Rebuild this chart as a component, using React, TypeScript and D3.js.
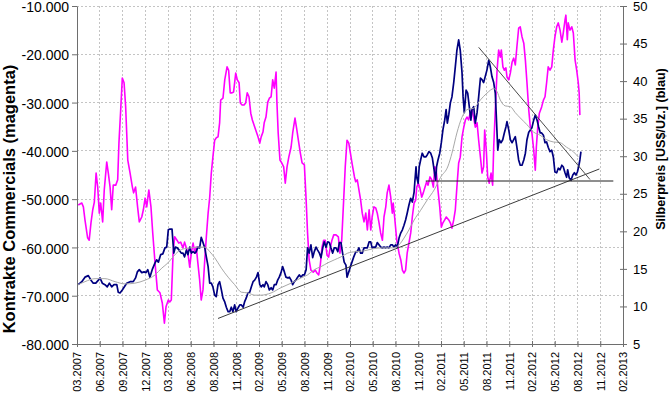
import React, { useEffect, useRef } from "react";
import * as d3 from "d3";

const xTickLabels = [
  "03.2007", "06.2007", "09.2007", "12.2007", "03.2008", "06.2008", "08.2008",
  "11.2008", "02.2009", "05.2009", "08.2009", "11.2009", "02.2010", "05.2010",
  "08.2010", "11.2010", "02.2011", "05.2011", "08.2011", "11.2011", "02.2012",
  "05.2012", "08.2012", "11.2012", "02.2013",
];
const leftTicks = [-80000, -70000, -60000, -50000, -40000, -30000, -20000, -10000];
const rightTicks = [5, 10, 15, 20, 25, 30, 35, 40, 45, 50];

// weeks since 09.03.2007
const commWeeks = [
  0.7, 2.7, 3.6, 4.5, 6.0, 6.9, 7.9, 8.9, 9.8, 10.8,
  11.7, 12.6, 13.4, 14.5, 15.4, 16.8, 17.7, 18.7, 19.6, 20.5,
  21.9, 23.0, 23.7, 24.7, 25.6, 26.6, 27.5, 28.7, 30.0, 31.3,
  32.0, 33.1, 34.3, 35.2, 36.6, 37.5, 38.5, 39.4, 40.6, 41.8,
  42.8, 44.1, 45.4, 46.9, 48.2, 49.4, 50.3, 51.6, 52.4, 53.3,
  54.3, 55.2, 56.5, 57.5, 58.6, 59.9, 60.8, 61.8, 62.7, 63.7,
  64.6, 65.6, 66.6, 67.4, 68.3, 69.3, 70.2, 71.2, 72.2, 73.1,
  74.1, 75.0, 75.9, 76.8, 77.8, 78.7, 79.7, 80.6, 81.2, 82.5,
  83.5, 84.8, 85.7, 86.6, 87.6, 88.5, 89.7, 90.6, 91.6, 92.3,
  93.3, 94.4, 95.3, 96.2, 97.2, 98.2, 99.1, 100.0, 101.0, 102.3,
  103.3, 104.1, 105.1, 105.8, 106.8, 107.8, 108.7, 109.7, 110.6, 111.5,
  112.5, 113.0, 113.7, 114.7, 115.7, 116.8, 117.7, 118.7, 119.7, 121.0,
  121.9, 123.2, 124.1, 125.1, 126.2, 127.2, 128.5, 129.5, 130.3, 131.2,
  132.2, 133.5, 134.7, 135.6, 136.6, 137.5, 138.5, 139.4, 140.3, 141.3,
  142.2, 143.1, 144.1, 145.1, 146.4, 147.7, 148.6, 149.6, 150.7, 151.6,
  152.6, 153.6, 154.5, 155.4, 156.8, 157.5, 158.4, 160.3, 161.2, 162.2,
  163.2, 164.1, 165.1, 166.0, 166.8, 167.8, 168.8, 169.7, 170.7, 171.6,
  172.6, 173.5, 174.5, 175.3, 176.3, 177.3, 178.2, 178.7, 179.5, 180.7,
  182.0, 183.0, 183.9, 184.8, 185.7, 186.6, 187.6, 188.6, 189.5, 190.5,
  191.4, 192.0, 192.9, 193.8, 194.8, 195.7, 196.7, 197.6, 198.4, 199.5,
  200.5, 201.4, 202.2, 203.0, 204.0, 205.0, 205.9, 206.8, 207.8, 208.7,
  210.1, 211.0, 211.9, 212.9, 213.8, 214.7, 215.7, 216.6, 217.6, 218.6,
  219.5, 220.4, 221.3, 222.2, 223.2, 224.2, 225.1, 226.1, 227.0, 228.0,
  228.9, 229.8, 230.4, 231.3, 232.1, 233.0, 234.0, 234.9, 235.5, 236.4,
  237.4, 238.3, 239.2, 239.8, 240.7, 241.5, 242.4, 243.0, 244.0, 244.9,
  245.9, 246.8, 247.7, 248.6, 249.6, 250.5, 251.5, 252.5, 253.4, 254.3,
  255.3, 256.2, 257.1, 258.1, 259.0, 259.6, 260.4, 261.3, 262.6, 263.6,
  264.5, 265.4, 266.3, 267.3, 268.3, 269.2, 270.1, 271.1, 272.0, 273.0,
  274.0, 274.8, 275.8, 276.3, 277.1, 277.6, 278.6, 279.6, 280.5, 281.5,
  282.4, 283.3, 283.8, 284.2,
];
const commValues = [
  -51200, -50800, -51600, -54300, -58000, -58500, -54900, -52200, -50600, -44600,
  -47500, -52900, -50800, -54700, -48100, -42300, -44600, -47500, -52200, -47100,
  -47100, -46000, -38400, -31500, -24900, -25900, -30900, -41900, -44600, -47500,
  -48700, -47500, -51800, -54700, -53700, -52200, -49800, -51600, -48100, -51600,
  -57000, -63200, -68800, -69400, -71500, -75700, -72300, -70900, -71300, -70900,
  -61200, -57800, -58500, -59100, -58900, -60100, -58900, -60100, -61200, -64100,
  -61200, -59100, -61200, -59900, -63200, -66700, -70900, -68800, -62600, -57800,
  -52900, -49600, -44600, -41300, -37800, -37300, -37100, -34200, -29500, -29100,
  -25300, -22600, -23300, -28000, -28000, -27800, -23900, -25300, -25900, -30100,
  -30500, -30500, -30100, -28000, -28800, -32200, -33600, -34600, -35700, -37100,
  -38400, -37100, -36100, -34200, -33000, -29900, -29100, -28800, -25300, -27000,
  -23700, -30100, -36300, -41900, -42500, -43300, -46700, -43300, -41300, -39200,
  -36300, -33200, -35300, -37800, -40400, -42500, -42900, -50200, -57000, -62600,
  -64700, -65100, -64700, -65300, -65700, -63600, -59900, -58500, -58500, -61600,
  -62000, -60100, -58500, -57400, -57400, -57800, -61200, -58500, -50200, -43300,
  -37800, -38400, -40400, -42500, -45400, -46400, -46000, -50200, -52900, -54700,
  -52900, -56400, -52200, -56400, -53700, -51600, -51800, -52900, -54900, -57000,
  -58500, -53700, -51600, -48700, -47100, -49600, -52900, -50800, -53700, -58500,
  -61200, -62600, -64700, -65300, -64700, -61200, -59100, -57000, -53700, -50800,
  -50200, -47500, -46700, -47700, -49600, -48700, -47500, -46400, -47100, -45400,
  -46000, -47500, -43300, -44000, -48100, -51600, -55800, -54900, -54300, -53700,
  -54300, -54900, -56000, -54300, -52200, -47500, -42500, -41300, -37100, -35100,
  -33600, -33000, -33600, -32200, -31500, -33200, -35100, -34200, -37800, -41300,
  -44600, -43300, -35700, -39800, -45400, -46700, -44600, -47100, -39200, -31500,
  -23300, -19100, -20600, -19100, -22600, -23300, -22800, -24700, -25300, -23900,
  -21600, -20800, -22200, -18500, -14600, -14300, -16400, -17700, -21200, -25900,
  -31500, -35100, -36300, -39800, -44000, -39200, -35100, -32200, -30900, -29500,
  -28800, -25900, -22600, -23300, -22600, -19100, -16400, -14300, -13500, -15000,
  -17500, -15600, -12900, -11900, -17000, -13500, -15000, -14300, -15600, -21200,
  -23300, -25900, -28000, -32600,
];

const silverWeeks = [
  0.7, 2.7, 4.5, 6.4, 7.9, 9.2, 10.6, 12.1, 13.0, 14.3,
  15.8, 17.1, 18.3, 19.6, 20.9, 22.5, 23.3, 24.3, 25.6, 26.7,
  28.1, 30.0, 31.8, 33.1, 34.1, 35.2, 36.6, 37.9, 39.0, 40.0,
  41.2, 42.5, 44.1, 45.0, 46.0, 47.3, 48.5, 49.7, 50.7, 51.6,
  52.5, 53.7, 54.7, 55.6, 56.7, 57.7, 58.9, 59.9, 60.8, 61.8,
  62.7, 63.7, 64.6, 65.6, 66.6, 67.4, 68.3, 69.3, 70.2, 71.2,
  72.2, 73.1, 74.1, 75.0, 75.9, 76.8, 77.8, 78.7, 79.7, 80.6,
  81.6, 82.5, 83.5, 84.4, 85.4, 86.3, 87.2, 88.1, 89.1, 90.0,
  91.0, 92.0, 92.9, 93.9, 94.7, 95.6, 96.6, 97.6, 98.5, 99.5,
  100.4, 101.4, 102.3, 103.3, 104.1, 105.1, 105.8, 106.8, 107.8, 108.7,
  109.7, 110.6, 111.5, 112.5, 113.4, 114.3, 115.3, 116.2, 117.2, 118.1,
  119.1, 120.0, 121.0, 121.9, 122.8, 123.7, 124.7, 125.6, 126.6, 127.6,
  128.5, 129.5, 130.3, 131.2, 132.2, 133.2, 134.1, 135.1, 136.0, 137.0,
  137.9, 138.9, 139.7, 140.7, 141.7, 142.6, 143.5, 144.5, 145.4, 146.4,
  147.4, 148.3, 149.2, 150.1, 151.0, 152.0, 152.6, 153.6, 154.5, 155.4,
  156.4, 157.6, 158.4, 159.3, 160.3, 161.2, 162.2, 163.2, 164.1, 165.1,
  166.0, 166.8, 167.8, 168.8, 169.7, 170.7, 171.6, 172.6, 173.5, 174.5,
  175.3, 176.3, 177.3, 178.2, 179.1, 180.1, 181.0, 182.0, 183.0, 183.9,
  184.8, 185.7, 186.6, 187.6, 188.6, 189.5, 190.5, 191.0, 191.6, 192.0,
  192.8, 193.4, 194.2, 195.1, 196.1, 197.1, 198.0, 198.9, 199.9, 200.8,
  201.8, 202.7, 203.2, 204.0, 205.0, 205.9, 206.8, 207.8, 208.6, 209.3,
  210.1, 211.0, 211.9, 212.9, 213.8, 214.7, 215.7, 216.6, 217.6, 218.2,
  218.9, 219.9, 220.8, 221.7, 222.6, 223.2, 224.2, 225.1, 226.1, 227.0,
  228.0, 228.9, 229.8, 230.7, 231.7, 232.7, 233.6, 234.5, 235.5, 236.4,
  237.0, 237.8, 238.6, 239.6, 240.6, 241.5, 242.4, 243.0, 244.0, 244.9,
  245.9, 246.8, 247.7, 248.6, 249.6, 250.5, 251.5, 252.5, 253.4, 254.3,
  255.3, 256.2, 257.1, 258.1, 259.0, 260.0, 260.9, 261.8, 262.6, 263.6,
  264.5, 265.4, 266.3, 267.3, 268.3, 269.2, 270.1, 271.1, 272.0, 273.0,
  274.0, 274.8, 275.8, 276.7, 277.3, 278.2, 279.2, 280.2, 281.1, 282.0,
  282.8, 283.5, 284.2, 284.8,
];
const silverValues = [
  12.9, 13.3, 13.9, 14.1, 13.5, 13.1, 13.1, 13.5, 13.8, 13.1,
  12.9, 12.6, 13.1, 12.6, 12.9, 12.9, 11.9, 11.8, 12.2, 12.6,
  13.1, 13.3, 13.3, 13.8, 14.6, 14.9, 14.5, 14.6, 14.5, 14.9,
  13.9, 14.9, 15.8, 16.2, 15.9, 16.9, 17.0, 17.8, 17.9, 20.2,
  20.3, 20.3, 17.1, 17.9, 17.8, 17.5, 17.1, 17.1, 16.6, 17.5,
  16.9, 17.9, 17.1, 17.3, 17.1, 17.3, 17.9, 17.8, 19.2, 18.5,
  17.8, 16.6, 15.3, 13.1, 13.1, 12.6, 11.5, 11.3, 12.9, 13.3,
  12.2, 11.1, 10.6, 9.9, 9.3, 9.3, 9.9, 9.3, 10.2, 9.3,
  9.8, 10.2, 10.2, 9.9, 10.6, 11.1, 11.8, 11.9, 12.6, 13.3,
  13.5, 13.9, 14.5, 12.9, 12.6, 12.9, 12.6, 13.3, 12.9, 12.2,
  12.5, 12.2, 12.9, 12.9, 13.5, 13.9, 14.5, 15.3, 14.6, 13.9,
  13.8, 13.9, 13.5, 12.9, 13.3, 13.5, 13.9, 14.2, 13.9, 14.2,
  14.2, 14.9, 17.8, 17.1, 18.2, 16.5, 17.3, 17.9, 17.5, 17.1,
  16.5, 17.8, 18.6, 17.9, 18.6, 18.5, 17.8, 17.1, 17.8, 17.8,
  17.3, 18.5, 18.5, 17.1, 15.9, 15.5, 13.9, 14.6, 15.3, 15.9,
  16.6, 17.3, 17.3, 17.8, 17.1, 17.1, 17.8, 17.8, 17.8, 18.6,
  18.6, 17.8, 17.9, 17.9, 18.5, 18.2, 17.9, 17.8, 17.9, 17.8,
  17.9, 17.8, 18.2, 18.2, 17.9, 18.2, 17.9, 19.1, 19.8, 20.2,
  20.8, 21.5, 22.4, 23.5, 24.4, 23.9, 25.2, 26.8, 28.6, 27.2,
  26.4, 28.6, 29.5, 30.4, 29.9, 29.9, 30.2, 30.6, 30.4, 29.8,
  28.2, 26.8, 28.6, 29.5, 30.4, 31.8, 33.5, 34.8, 36.2, 34.4,
  35.5, 37.1, 37.9, 39.8, 41.9, 44.1, 45.5, 44.1, 41.1, 37.9,
  35.8, 38.8, 38.4, 36.6, 34.8, 36.2, 36.6, 34.4, 35.8, 37.9,
  40.4, 40.2, 39.8, 40.6, 41.5, 42.8, 41.9, 40.6, 39.8, 38.4,
  35.2, 30.8, 32.2, 31.8, 32.2, 33.1, 33.9, 34.6, 33.5, 32.2,
  31.8, 32.2, 32.6, 31.2, 29.5, 28.8, 28.8, 29.5, 30.4, 32.2,
  33.2, 33.5, 33.8, 34.8, 35.5, 34.8, 33.9, 33.1, 33.1, 32.8,
  31.8, 31.9, 31.2, 30.6, 30.8, 29.9, 27.9, 27.8, 28.4, 28.2,
  28.8, 28.6, 27.8, 27.2, 28.2, 27.1, 26.8, 27.5, 27.8, 27.5,
  27.9, 28.6, 29.5, 30.6,
];

// gleitender Durchschnitt Silber (grau)
const avgWeeks = [
  0.7, 4.5, 10.2, 15.8, 21.5, 27.1, 32.7, 38.5, 44.1, 47.9,
  51.4, 54.3, 57.1, 60.8, 64.6, 68.3, 72.2, 75.0, 77.8, 81.6,
  85.4, 89.1, 92.9, 96.6, 100.4, 103.9, 109.7, 115.3, 121.0, 126.6,
  130.3, 134.1, 137.9, 141.7, 145.4, 149.2, 153.0, 157.6, 162.2, 167.8,
  173.5, 179.1, 182.0, 184.8, 187.6, 190.5, 194.2, 198.0, 201.8, 205.5,
  209.7, 211.9, 214.7, 217.6, 220.4, 224.2, 228.0, 231.7, 235.5, 237.4,
  239.2, 242.0, 244.9, 247.7, 250.5, 254.3, 258.1, 261.7, 265.4, 269.2,
  273.0, 276.7, 280.5, 283.3,
];
const avgValues = [
  12.9, 13.3, 13.7, 13.7, 13.3, 13.0, 13.1, 13.5, 14.2, 15.1,
  15.8, 16.6, 17.3, 17.7, 17.8, 17.9, 17.9, 17.3, 16.5, 15.1,
  13.9, 12.9, 11.9, 11.8, 11.5, 11.5, 11.8, 12.5, 13.1, 13.8,
  14.2, 14.9, 15.3, 15.8, 16.2, 16.6, 17.1, 17.3, 17.4, 17.7,
  17.8, 17.8, 18.2, 19.1, 20.2, 21.5, 22.8, 24.2, 25.5, 27.2,
  28.7, 30.4, 33.1, 35.2, 36.2, 36.4, 37.5, 38.4, 39.0, 38.6,
  37.5, 36.7, 36.6, 35.8, 35.1, 34.2, 33.2, 32.8, 32.2, 31.9,
  31.8, 31.2, 30.6, 29.9,
];

// Trendlinien (Silber-Skala)
const supportWeeks = [79.7, 295.2];
const supportValues = [8.4, 28.3];
const flatWeeks = [197.1, 303.1];
const flatValues = [26.7, 26.7];
const downWeeks = [227.0, 289.9];
const downValues = [44.5, 26.9];

const START = Date.UTC(2007, 2, 9);
const DAY = 86400000;
const TICK_DAYS = 90;

const App = () => {
  const svgRef = useRef<SVGSVGElement>(null);

  useEffect(() => {
    document.body.style.margin = "0";
    const width = 670;
    const height = 393;
    const left = 77;
    const right = 623;
    const top = 6;
    const bottom = 344;
    const font = "'Liberation Sans', Arial, sans-serif";
    const axisColor = "#6e6e6e";

    const svg = d3
      .select(svgRef.current)
      .attr("width", width)
      .attr("height", height)
      .style("background", "#fff")
      .style("font-family", font);

    svg.selectAll("*").remove();

    const toDate = (w: number) => new Date(START + w * 7 * DAY);
    const tickDates = xTickLabels.map((_, i) => new Date(START + i * TICK_DAYS * DAY));

    const x = d3
      .scaleUtc()
      .domain([tickDates[0], tickDates[tickDates.length - 1]])
      .range([left, right]);
    const yL = d3.scaleLinear().domain([-80000, -10000]).range([bottom, top]);
    const yR = d3.scaleLinear().domain([5, 50]).range([bottom, top]);

    const de = d3.formatLocale({
      decimal: ",",
      thousands: ".",
      grouping: [3],
      currency: ["", " €"],
      minus: "-",
    });
    const fmt = de.format(",");

    // grid
    const grid = svg
      .append("g")
      .attr("stroke", "#c4c4c4")
      .attr("stroke-dasharray", "2,2")
      .attr("shape-rendering", "crispEdges");
    grid
      .selectAll("line.h")
      .data(leftTicks.slice(1))
      .join("line")
      .attr("class", "h")
      .attr("x1", left)
      .attr("x2", right)
      .attr("y1", (d) => yL(d))
      .attr("y2", (d) => yL(d));
    grid
      .selectAll("line.v")
      .data(tickDates.slice(1, -1))
      .join("line")
      .attr("class", "v")
      .attr("x1", (d) => x(d))
      .attr("x2", (d) => x(d))
      .attr("y1", top)
      .attr("y2", bottom);

    // series
    const lineL = d3
      .line<[number, number]>()
      .x((d) => x(toDate(d[0])))
      .y((d) => yL(d[1]));
    const lineR = d3
      .line<[number, number]>()
      .x((d) => x(toDate(d[0])))
      .y((d) => yR(d[1]));
    const lineAvg = d3
      .line<[number, number]>()
      .curve(d3.curveMonotoneX)
      .x((d) => x(toDate(d[0])))
      .y((d) => yR(d[1]));

    svg
      .append("path")
      .datum(d3.zip(commWeeks, commValues) as [number, number][])
      .attr("fill", "none")
      .attr("stroke", "#ff00ff")
      .attr("stroke-width", 1.6)
      .attr("stroke-linejoin", "round")
      .attr("d", lineL);

    svg
      .append("path")
      .datum(d3.zip(silverWeeks, silverValues) as [number, number][])
      .attr("fill", "none")
      .attr("stroke", "#000080")
      .attr("stroke-width", 1.7)
      .attr("stroke-linejoin", "round")
      .attr("d", lineR);

    svg
      .append("path")
      .datum(d3.zip(avgWeeks, avgValues) as [number, number][])
      .attr("fill", "none")
      .attr("stroke", "#a8a8a8")
      .attr("stroke-width", 1)
      .attr("d", lineAvg);

    const trends = [
      { w: supportWeeks, v: supportValues, c: "#3c3c3c" },
      { w: flatWeeks, v: flatValues, c: "#1e1e1e" },
      { w: downWeeks, v: downValues, c: "#4a4a4a" },
    ];
    trends.forEach((t) => {
      svg
        .append("path")
        .datum(d3.zip(t.w, t.v) as [number, number][])
        .attr("fill", "none")
        .attr("stroke", t.c)
        .attr("stroke-width", 1)
        .attr("d", lineR);
    });

    // axes
    const gL = svg
      .append("g")
      .attr("transform", `translate(${left},0)`)
      .call(
        d3
          .axisLeft(yL)
          .tickValues(leftTicks)
          .tickSize(5)
          .tickSizeOuter(0)
          .tickFormat((d) => fmt(d as number))
      );
    gL.selectAll("text")
      .attr("dy", "0.4em")
      .style("font-size", "14px")
      .attr("fill", "#000")
      .style("font-family", font);

    const gR = svg
      .append("g")
      .attr("transform", `translate(${right},0)`)
      .call(d3.axisRight(yR).tickValues(rightTicks).tickSize(4).tickPadding(6).tickSizeOuter(0));
    gR.selectAll(".tick line").attr("x1", -3);
    gR.selectAll("text").style("font-size", "13px").attr("fill", "#000").style("font-family", font);

    const gB = svg
      .append("g")
      .attr("transform", `translate(0,${bottom})`)
      .call(
        d3
          .axisBottom(x)
          .tickValues(tickDates)
          .tickSize(3)
          .tickSizeOuter(0)
          .tickFormat((_, i) => xTickLabels[i])
      );
    gB.selectAll(".tick line").attr("y1", -3);
    gB.selectAll("text")
      .attr("transform", "rotate(-90)")
      .attr("text-anchor", "end")
      .attr("x", -8)
      .attr("y", 0)
      .attr("dy", "0.35em")
      .style("font-size", "11px")
      .attr("fill", "#000")
      .style("font-family", font);

    [gL, gR, gB].forEach((g) => {
      g.select(".domain").attr("stroke", axisColor);
      g.selectAll(".tick line").attr("stroke", axisColor);
    });

    // axis titles
    svg
      .append("text")
      .attr("transform", `translate(15,199) rotate(-90)`)
      .attr("text-anchor", "middle")
      .style("font-size", "16.5px")
      .style("font-weight", "bold")
      .text("Kontrakte Commercials (magenta)");

    svg
      .append("text")
      .attr("transform", `translate(665,149) rotate(-90)`)
      .attr("text-anchor", "middle")
      .style("font-size", "12.6px")
      .style("font-weight", "bold")
      .text("Silberpreis [US$/Uz.] (blau)");
  }, []);

  return (
    <div style={{ width: 670, height: 393 }}>
      <svg ref={svgRef} style={{ display: "block" }}></svg>
    </div>
  );
};

export default App;
